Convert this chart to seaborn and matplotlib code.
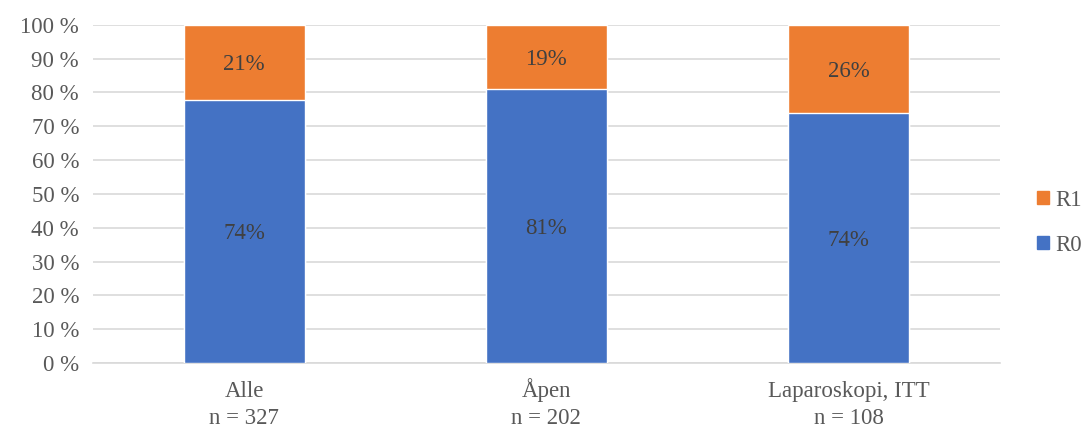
import matplotlib
matplotlib.use("Agg")
import matplotlib.pyplot as plt
import matplotlib.transforms as mtransforms
import seaborn as sns
import pandas as pd
from matplotlib.patches import Patch

# data
categories = ["Alle", "Åpen", "Laparoskopi, ITT"]
n_labels = ["n = 327", "n = 202", "n = 108"]
r0 = [74, 81, 74]
r1 = [21, 19, 26]

blue = "#4472C4"
orange = "#ED7D31"

sns.set_style("white")
plt.rcParams["font.family"] = ["Liberation Serif", "DejaVu Serif"]

# 100 % stacked: normalise each bar to its total
df = pd.DataFrame({"cat": categories, "R0": r0, "R1": r1})
df["tot"] = df["R0"] + df["R1"]
df["r0_pct"] = df["R0"] / df["tot"] * 100
df["full"] = 100.0

fig = plt.figure(figsize=(10.86, 4.28), dpi=100)
ax = fig.add_axes([0.0856, 0.152, 0.835, 0.790])

sns.barplot(data=df, x="cat", y="full", color=orange, width=0.4,
            saturation=1, ax=ax, zorder=3)
sns.barplot(data=df, x="cat", y="r0_pct", color=blue, width=0.4,
            saturation=1, ax=ax, zorder=3)

# labels with the raw values
for i, row in df.iterrows():
    ax.text(i, row["r0_pct"] / 2, f"{row['R0']}%", ha="center",
            va="center_baseline", fontsize=16.5, color="#404040", zorder=5)
    ax.text(i, row["r0_pct"] + (100 - row["r0_pct"]) / 2, f"{row['R1']}%",
            ha="center", va="center_baseline", fontsize=16.5, color="#404040",
            zorder=5)

ax.set_ylim(0, 100)
ax.set_xlim(-0.5, 2.5)
ax.set_yticks(range(0, 101, 10))
ax.set_yticklabels([f"{v} %" for v in range(0, 101, 10)])
ax.yaxis.grid(True, color="#D9D9D9", linewidth=1.2, zorder=0)
ax.set_axisbelow(True)
for s in ["top", "right", "left"]:
    ax.spines[s].set_visible(False)
ax.spines["bottom"].set_color("#D9D9D9")
ax.spines["bottom"].set_linewidth(1.2)
ax.tick_params(axis="y", length=0, labelsize=16.5, colors="#595959", pad=10)
ax.tick_params(axis="x", length=0)
ax.set_xticklabels([])
ax.set_xlabel("")
ax.set_ylabel("")

# two-line category labels on a common baseline
xtr = ax.get_xaxis_transform()
line1 = xtr + mtransforms.ScaledTranslation(0, -24.5 / 72, fig.dpi_scale_trans)
line2 = xtr + mtransforms.ScaledTranslation(0, -44 / 72, fig.dpi_scale_trans)
for i, (c, n) in enumerate(zip(categories, n_labels)):
    ax.text(i, 0, c, transform=line1, ha="center", va="baseline",
            fontsize=16.5, color="#595959")
    ax.text(i, 0, n, transform=line2, ha="center", va="baseline",
            fontsize=16.5, color="#595959")

handles = [Patch(color=orange, label="R1"), Patch(color=blue, label="R0")]
leg = fig.legend(handles=handles, loc="center left", bbox_to_anchor=(0.955, 0.48),
                 frameon=False, fontsize=16.5, handlelength=0.5, handleheight=0.5,
                 handletextpad=0.3, labelspacing=1.05, borderpad=0,
                 borderaxespad=0)
for t in leg.get_texts():
    t.set_color("#595959")

fig.savefig("out.png", dpi=100)
